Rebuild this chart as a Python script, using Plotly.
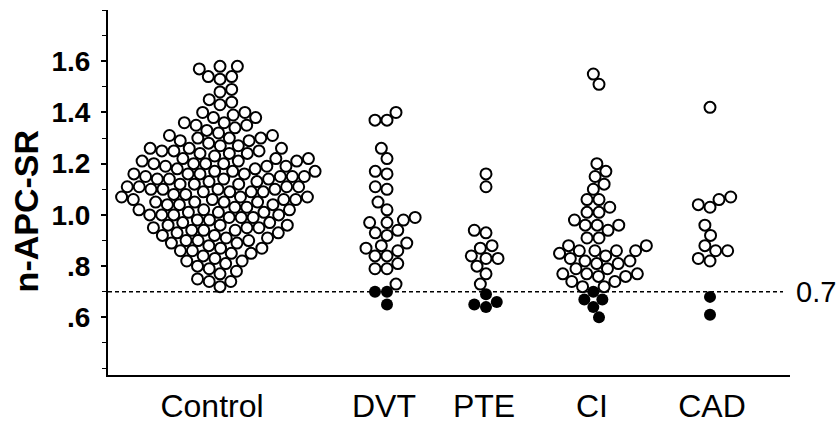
import math
import plotly.graph_objects as go

# ---------------- data ----------------
groups = ["Control", "DVT", "PTE", "CI", "CAD"]

control_open = [
    1.58, 1.58, 1.57,
    1.54, 1.53, 1.54,
    1.49, 1.48,
    1.45, 1.44, 1.43,
    1.40, 1.39, 1.38, 1.40, 1.38,
    1.36, 1.35, 1.34, 1.36, 1.33, 1.35,
    1.31, 1.30, 1.29, 1.31, 1.28, 1.30, 1.29, 1.32, 1.30,
    1.26, 1.25, 1.24, 1.27, 1.26, 1.23, 1.25, 1.24, 1.27, 1.26, 1.25, 1.24,
    1.21, 1.20, 1.19, 1.22, 1.21, 1.18, 1.20, 1.19, 1.22, 1.21, 1.20, 1.19, 1.18, 1.22, 1.20,
    1.16, 1.15, 1.14, 1.17, 1.16, 1.13, 1.15, 1.14, 1.17, 1.16, 1.15, 1.14, 1.13, 1.17, 1.15, 1.16, 1.14,
    1.11, 1.10, 1.09, 1.12, 1.11, 1.08, 1.10, 1.09, 1.12, 1.11, 1.10, 1.09, 1.08, 1.12, 1.10, 1.11, 1.09,
    1.06, 1.05, 1.04, 1.07, 1.06, 1.03, 1.05, 1.04, 1.07, 1.06, 1.05, 1.04, 1.03, 1.07, 1.05, 1.06,
    1.01, 1.00, 0.99, 1.02, 1.01, 0.98, 1.00, 0.99, 1.02, 1.01, 1.00, 0.99, 0.98, 1.02, 1.00,
    0.96, 0.95, 0.94, 0.97, 0.96, 0.93, 0.95, 0.94, 0.97, 0.96, 0.95, 0.94, 0.93,
    0.91, 0.90, 0.89, 0.92, 0.91, 0.88, 0.90, 0.89, 0.92, 0.90,
    0.86, 0.85, 0.87, 0.86, 0.84, 0.85, 0.87,
    0.82, 0.81, 0.83, 0.82, 0.80,
    0.78, 0.77, 0.79,
    0.74, 0.75, 0.74,
    0.72,
]
control_filled = []

dvt_open = [1.37, 1.40, 1.37, 1.26, 1.22, 1.17, 1.16, 1.11, 1.10, 1.02, 1.05, 0.99,
            0.97, 0.98, 0.97, 0.92, 0.94, 0.93, 0.89, 0.86, 0.88, 0.87, 0.84, 0.84,
            0.81, 0.79, 0.79, 0.73]
dvt_filled = [0.70, 0.70, 0.65]

pte_open = [1.16, 1.11, 0.94, 0.93, 0.88, 0.87, 0.83, 0.84, 0.83, 0.80, 0.77, 0.73]
pte_filled = [0.69, 0.66, 0.64, 0.65]

ci_open = [1.55, 1.51, 1.20, 1.17, 1.15, 1.12, 1.10, 1.06, 1.06, 1.03, 1.01, 1.01,
           0.98, 0.96, 0.96, 0.96, 0.94, 0.91, 0.91, 0.88, 0.88, 0.86, 0.86, 0.86,
           0.86, 0.85, 0.82, 0.82, 0.83, 0.84, 0.81, 0.79, 0.81, 0.77, 0.77, 0.79,
           0.77, 0.76, 0.74, 0.72, 0.74, 0.76, 0.72]
ci_filled = [0.70, 0.67, 0.67, 0.64, 0.60]

cad_open = [1.42, 1.04, 1.06, 1.07, 1.03, 0.96, 0.92, 0.88, 0.86, 0.86, 0.83, 0.82]
cad_filled = [0.68, 0.61]

cutoff = 0.7
cutoff_label = "0.7"
y_tickvals = [0.6, 0.8, 1.0, 1.2, 1.4, 1.6]
y_ticktext = [".6", ".8", "1.0", "1.2", "1.4", "1.6"]
y_title = "n-APC-SR"

# ---------------- layout constants (pixels) ----------------
W, H = 838, 434
L, R, T, B = 108, 790, 10, 387
Y0, Y1 = 0.375, 1.80
ppu = (B - T) / (Y1 - Y0)          # pixels per y unit
centers = [220, 387, 486, 599, 710]
label_x = [212, 384, 484, 592, 712]
D = 12.0                            # min centre distance in swarm (px)

FONT = "Liberation Sans, Arial, Helvetica, sans-serif"


def swarm(vals, center):
    ys = [(v - Y0) * ppu for v in vals]
    order = sorted(range(len(vals)), key=lambda i: vals[i])
    placed = []
    xs = [0.0] * len(vals)
    for i in order:
        y = ys[i]
        near = [(xj, yj) for xj, yj in placed if abs(yj - y) < D]
        cands = [0.0]
        for xj, yj in near:
            dx = math.sqrt(max(D * D - (yj - y) ** 2, 0))
            cands += [xj + dx, xj - dx]
        cands.sort(key=lambda c: (abs(c), c))
        for c in cands:
            if all((c - xj) ** 2 + (y - yj) ** 2 >= D * D - 1e-6 for xj, yj in near):
                xs[i] = c
                placed.append((c, y))
                break
    return [center + x for x in xs]


fig = go.Figure()
series = [
    (control_open, control_filled),
    (dvt_open, dvt_filled),
    (pte_open, pte_filled),
    (ci_open, ci_filled),
    (cad_open, cad_filled),
]
for (op, fl), cx in zip(series, centers):
    allv = op + fl
    xs = swarm(allv, cx)
    xo, xf = xs[:len(op)], xs[len(op):]
    fig.add_trace(go.Scatter(
        x=xo, y=op, mode="markers", showlegend=False, cliponaxis=False,
        marker=dict(symbol="circle", size=11, color="white",
                    line=dict(color="black", width=2)),
    ))
    if fl:
        fig.add_trace(go.Scatter(
            x=xf, y=fl, mode="markers", showlegend=False, cliponaxis=False,
            marker=dict(symbol="circle", size=12, color="black",
                        line=dict(color="black", width=0)),
        ))

fig.add_shape(type="line", xref="x", yref="y", x0=L, x1=783, y0=cutoff, y1=cutoff,
              line=dict(color="black", width=1.6, dash="4px,3px"), layer="below")

fig.add_annotation(xref="paper", yref="y", x=(837 - L) / (R - L), y=cutoff,
                   text=cutoff_label, showarrow=False, xanchor="right", yanchor="middle",
                   borderpad=0,
                   font=dict(family=FONT, size=29, color="black"))

fig.add_annotation(xref="paper", yref="paper", x=(26 - L) / (R - L), y=(B - 218) / (B - T),
                   text=f"<b>{y_title}</b>", showarrow=False, textangle=-90,
                   xanchor="center", yanchor="middle",
                   font=dict(family=FONT, size=34, color="black"))

fig.update_layout(
    width=W, height=H,
    margin=dict(l=L, r=W - R, t=T, b=H - B, pad=0),
    paper_bgcolor="white", plot_bgcolor="white",
    xaxis=dict(range=[L, R], showgrid=False, zeroline=False, showline=True,
               linecolor="black", linewidth=2, tickmode="array",
               tickvals=label_x, ticktext=groups, ticks="",
               ticklabelstandoff=2,
               tickfont=dict(family=FONT, size=32, color="black")),
    yaxis=dict(range=[Y0, Y1], showgrid=False, zeroline=False, showline=True,
               linecolor="black", linewidth=2, tickmode="array",
               tickvals=y_tickvals, ticktext=[f"<b>{t}</b>" for t in y_ticktext],
               ticks="outside", ticklen=5, tickwidth=1.5, tickcolor="black",
               ticklabelstandoff=5,
               minor=dict(ticks="outside", ticklen=4, tickwidth=1.2, tickcolor="black",
                          tickmode="linear", tick0=0.0, dtick=0.1),
               tickfont=dict(family=FONT, size=28, color="black")),
)

fig.write_html("out.html", config={"displayModeBar": False},
               post_script="document.body.style.margin='0';document.body.style.overflow='hidden';")
